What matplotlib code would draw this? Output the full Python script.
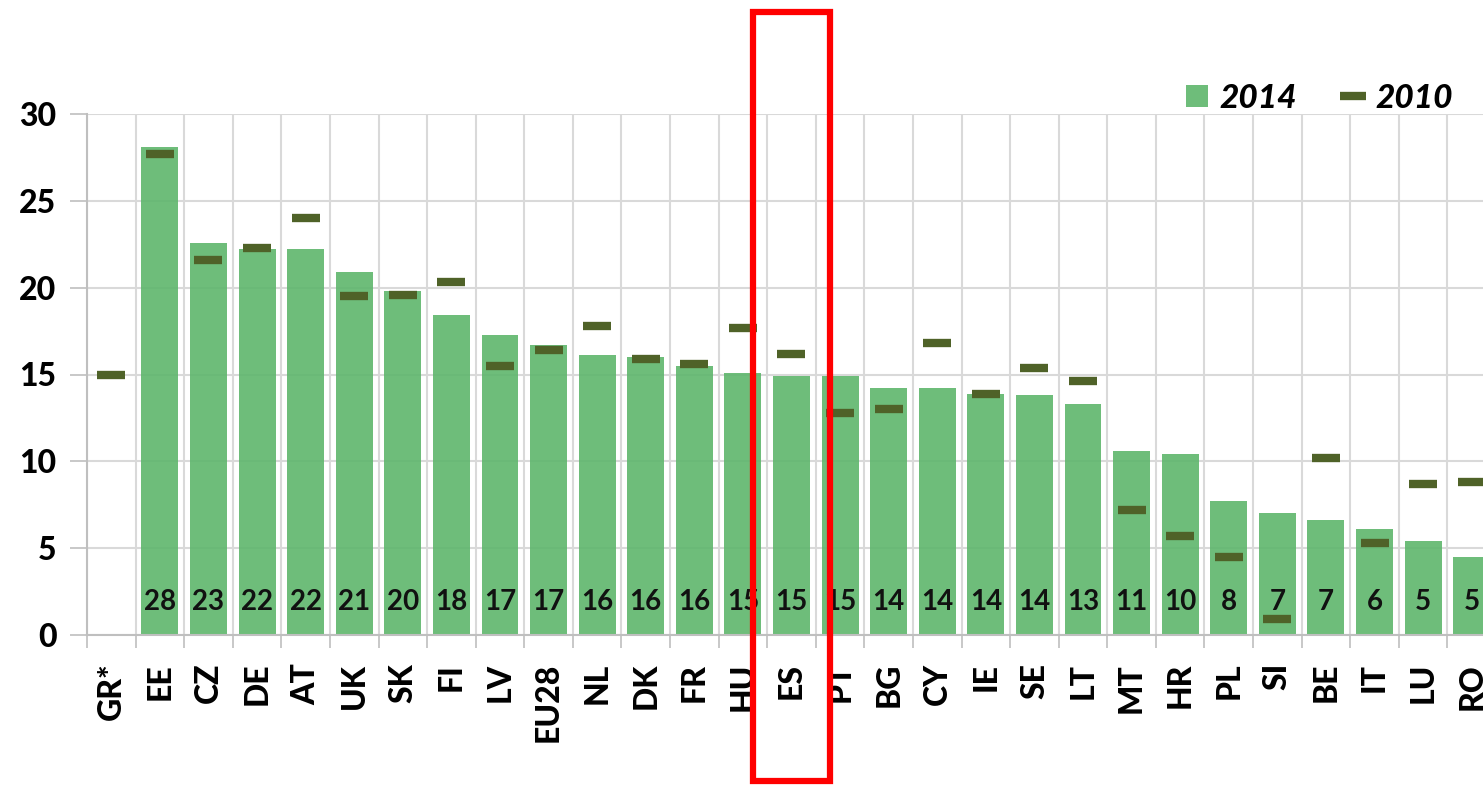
import matplotlib.pyplot as plt
import numpy as np
from matplotlib.patches import Patch, Rectangle
from matplotlib.lines import Line2D
from matplotlib.transforms import blended_transform_factory

plt.rcParams['font.family'] = ['Lato', 'DejaVu Sans']

# Data
countries = ['GR*', 'EE', 'CZ', 'DE', 'AT', 'UK', 'SK', 'FI', 'LV', 'EU28',
             'NL', 'DK', 'FR', 'HU', 'ES', 'PT', 'BG', 'CY', 'IE', 'SE',
             'LT', 'MT', 'HR', 'PL', 'SI', 'BE', 'IT', 'LU', 'RO']
values_2014 = [np.nan, 28.1, 22.6, 22.2, 22.2, 20.9, 19.8, 18.4, 17.3, 16.7,
               16.1, 16.0, 15.5, 15.1, 14.9, 14.9, 14.2, 14.2, 13.9, 13.8,
               13.3, 10.6, 10.4, 7.7, 7.0, 6.6, 6.1, 5.4, 4.5]
values_2010 = [15.0, 27.7, 21.6, 22.3, 24.0, 19.5, 19.6, 20.3, 15.5, 16.4,
               17.8, 15.9, 15.6, 17.7, 16.2, 12.8, 13.0, 16.8, 13.9, 15.4,
               14.6, 7.2, 5.7, 4.5, 0.9, 10.2, 5.3, 8.7, 8.8]
highlight = 'ES'

bar_color = '#5eb66c'
dash_color = '#4f6228'
grid_color = '#d9d9d9'

fig = plt.figure(figsize=(14.83, 7.85), dpi=100)
# axes runs a little past the right edge, like the cropped original
ax = fig.add_axes([87 / 1483, 150 / 785, 1409 / 1483, 521 / 785])

x = np.arange(len(countries))
ax.bar(x, values_2014, width=0.76, color=bar_color, alpha=0.9, zorder=2)
ax.plot(x, values_2010, linestyle='none', marker='_', markersize=20,
        markeredgewidth=6, color=dash_color, zorder=3)

# value labels inside bars
for xi, v in zip(x, values_2014):
    if np.isnan(v):
        continue
    ax.text(xi, 1.9, f'{int(np.floor(v + 0.5))}', ha='center', va='center',
            fontsize=20, fontweight='bold', color='#111111', zorder=4)

ax.set_xlim(-0.5, len(countries) - 0.5)
ax.set_ylim(0, 30)
ax.set_yticks(np.arange(0, 31, 5))
ax.set_xticks(x)
ax.set_xticklabels(countries, rotation=90, fontsize=23, fontweight='black')
ax.set_xticks(np.arange(-0.5, len(countries), 1), minor=True)
ax.tick_params(axis='x', which='major', length=0, pad=20)
ax.tick_params(axis='x', which='minor', length=9, color='#bfbfbf', width=1.2)
ax.tick_params(axis='y', length=12, color='#bfbfbf', width=1.2, labelsize=23, pad=10)
for lab in ax.get_yticklabels():
    lab.set_fontweight('black')

ax.grid(axis='y', color=grid_color, linewidth=1.5, zorder=0)
ax.grid(axis='x', which='minor', color=grid_color, linewidth=1.5, zorder=0)
ax.set_axisbelow(True)
for side in ['top', 'right']:
    ax.spines[side].set_visible(False)
for side in ['left', 'bottom']:
    ax.spines[side].set_color('#bfbfbf')
    ax.spines[side].set_linewidth(1.5)

handles = [Patch(facecolor=bar_color, alpha=0.9),
           Line2D([], [], linestyle='none', marker='_', markersize=19,
                  markeredgewidth=6, color=dash_color)]
fig.legend(handles, ['2014', '2010'], loc='center right',
           bbox_to_anchor=(1.0, 0.875), ncol=2, frameon=False,
           prop={'size': 24, 'weight': 'black', 'style': 'italic'},
           handlelength=0.65, handleheight=0.65, handletextpad=0.35,
           columnspacing=1.35)

# red box around the highlighted country
hi = countries.index(highlight)
trans = blended_transform_factory(ax.transData, fig.transFigure)
fig.patches.append(Rectangle((hi - 0.79, 0.005), 1.58, 0.98, transform=trans,
                             fill=False, edgecolor='#ff0000', linewidth=4.5,
                             figure=fig))

fig.savefig('out.png', dpi=100)
